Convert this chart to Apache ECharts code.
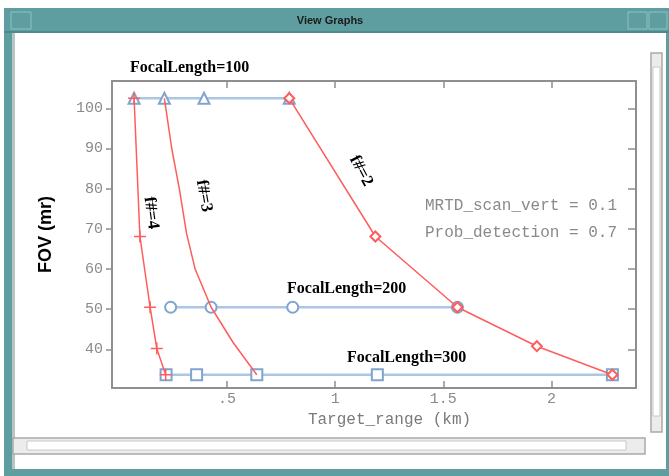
<!DOCTYPE html>
<html>
<head>
<meta charset="utf-8">
<script src="https://cdn.jsdelivr.net/npm/echarts@6/dist/echarts.min.js"></script>
<style>html,body{margin:0;padding:0;background:#fff;}#c{width:669px;height:476px;}</style>
</head>
<body>
<div id="c"></div>
<script>
// ---- data ----
const xTickValues = [0.5, 1, 1.5, 2];
const yTickValues = [40, 50, 60, 70, 80, 90, 100];

const fl100X = [0.071, 0.211, 0.394, 0.788];
const fl100Y = [102.5, 102.5, 102.5, 102.5];
const fl200X = [0.240, 0.427, 0.804, 1.565];
const fl200Y = [50.5, 50.5, 50.5, 50.5];
const fl300X = [0.219, 0.360, 0.638, 1.195, 2.281];
const fl300Y = [33.7, 33.7, 33.7, 33.7, 33.7];

const f2X = [0.788, 1.186, 1.565, 1.932, 2.281];
const f2Y = [102.5, 68.1, 50.5, 40.8, 33.7];
const f3X = [0.211, 0.245, 0.280, 0.313, 0.353, 0.427, 0.530, 0.638];
const f3Y = [102.5, 90, 80, 69, 60, 50.5, 41.6, 33.7];
const f4X = [0.071, 0.098, 0.145, 0.176, 0.217];
const f4Y = [102.5, 68.1, 50.5, 40.2, 33.7];

const pairs = (xs, ys) => xs.map((x, i) => [x, ys[i]]);

const BLUE_LINE = '#abc7e3';
const BLUE_MARK = '#7fa5cf';
const RED = '#ff5c5c';
const TEAL = '#5f9ea0';
const MONO = '"Liberation Mono", "DejaVu Sans Mono", monospace';
const SERIF = '"Liberation Serif", "DejaVu Serif", serif';

function blueSeries(name, data, symbol) {
  return {
    name, type: 'line', data, symbol, symbolSize: 11, z: 3,
    lineStyle: { color: BLUE_LINE, width: 2.5 },
    itemStyle: { color: BLUE_MARK, borderWidth: 1.5 },
    emphasis: { disabled: true }, animation: false
  };
}

const chart = echarts.init(document.getElementById('c'));
const axisGray = '#8f8f8f';
const labelGray = '#8a8a8a';
const xMin = -0.031, xMax = 2.39, yMin = 30.4, yMax = 106.8;

chart.setOption({
  animation: false,
  backgroundColor: '#ffffff',
  grid: { left: 112, top: 81, width: 524, height: 307, show: true, backgroundColor: '#ffffff', borderColor: axisGray, borderWidth: 0 },
  xAxis: [
    {
      type: 'value', min: xMin, max: xMax, position: 'bottom',
      name: 'Target_range (km)', nameLocation: 'middle', nameGap: 20,
      nameTextStyle: { fontFamily: MONO, fontSize: 16, color: '#7a7a7a', padding: [0, 0, 0, 31] },
      axisLine: { show: true, onZero: false, lineStyle: { color: axisGray, width: 2 } },
      axisTick: { show: true, inside: true, length: 7, customValues: xTickValues, lineStyle: { color: axisGray, width: 1.5 } },
      axisLabel: { customValues: xTickValues, margin: 4, fontFamily: MONO, fontSize: 15, color: labelGray,
        formatter: v => String(v).replace(/^0\./, '.') },
      splitLine: { show: false }
    },
    {
      type: 'value', min: xMin, max: xMax, position: 'top',
      axisLine: { show: true, onZero: false, lineStyle: { color: axisGray, width: 2 } },
      axisTick: { show: true, inside: true, length: 7, customValues: xTickValues, lineStyle: { color: axisGray, width: 1.5 } },
      axisLabel: { show: false }, splitLine: { show: false }
    }
  ],
  yAxis: [
    {
      type: 'value', min: yMin, max: yMax, position: 'left',
      name: 'FOV (mr)', nameLocation: 'middle', nameGap: 57, nameRotate: 90,
      nameTextStyle: { fontFamily: '"Liberation Sans", Arial, sans-serif', fontWeight: 'bold', fontSize: 18, color: '#000' },
      axisLine: { show: true, onZero: false, lineStyle: { color: axisGray, width: 2 } },
      axisTick: { show: true, inside: false, length: 6, customValues: yTickValues, lineStyle: { color: axisGray, width: 1.5 } },
      axisLabel: { customValues: yTickValues, margin: 9, fontFamily: MONO, fontSize: 15, color: labelGray },
      splitLine: { show: false }
    },
    {
      type: 'value', min: yMin, max: yMax, position: 'right',
      axisLine: { show: true, onZero: false, lineStyle: { color: axisGray, width: 2 } },
      axisTick: { show: true, inside: true, length: 8, customValues: yTickValues, lineStyle: { color: axisGray, width: 1.5 } },
      axisLabel: { show: false }, splitLine: { show: false }
    }
  ],
  series: [
    blueSeries('FocalLength=100', pairs(fl100X, fl100Y), 'emptyTriangle'),
    blueSeries('FocalLength=200', pairs(fl200X, fl200Y), 'emptyCircle'),
    blueSeries('FocalLength=300', pairs(fl300X, fl300Y), 'emptyRect'),
    {
      name: 'f#=2', type: 'line', data: pairs(f2X, f2Y), symbol: 'emptyDiamond', symbolSize: 10, z: 4,
      lineStyle: { color: RED, width: 1.5 }, itemStyle: { color: RED, borderWidth: 1.5 }, emphasis: { disabled: true }
    },
    {
      name: 'f#=3', type: 'line', data: pairs(f3X, f3Y), showSymbol: false, symbol: 'none', z: 4,
      lineStyle: { color: RED, width: 1.5 }, itemStyle: { color: RED }, emphasis: { disabled: true }
    },
    {
      name: 'f#=4', type: 'line', data: pairs(f4X, f4Y), symbol: 'path://M0,5L10,5M5,0L5,10', symbolSize: 12, z: 4,
      lineStyle: { color: RED, width: 1.5 }, itemStyle: { color: RED, borderColor: RED, borderWidth: 1.5 }, emphasis: { disabled: true }
    }
  ],
  graphic: [
    // window frame
    { type: 'rect', z: -10, shape: { x: 4, y: 8, width: 665, height: 468 }, style: { fill: TEAL } },
    { type: 'rect', z: -9, shape: { x: 13, y: 33, width: 653, height: 436 }, style: { fill: '#ffffff' } },
    { type: 'rect', z: -9, shape: { x: 12, y: 33, width: 3, height: 436 }, style: { fill: '#b9c4c4' } },
    { type: 'rect', z: -9, shape: { x: 4, y: 31, width: 665, height: 2 }, style: { fill: '#4d8a8c' } },
    { type: 'rect', z: -9, shape: { x: 11, y: 12, width: 20, height: 17 }, style: { fill: 'none', stroke: '#8fc2c2', lineWidth: 1 } },
    { type: 'rect', z: -9, shape: { x: 628, y: 12, width: 19, height: 17 }, style: { fill: 'none', stroke: '#8fc2c2', lineWidth: 1 } },
    { type: 'rect', z: -9, shape: { x: 649, y: 12, width: 18, height: 17 }, style: { fill: 'none', stroke: '#8fc2c2', lineWidth: 1 } },
    { type: 'text', z: -8, style: { x: 330, y: 21, text: 'View Graphs', align: 'center', verticalAlign: 'middle',
      font: 'bold 11px "Liberation Sans", sans-serif', fill: '#1a1a1a' } },
    // vertical scrollbar
    { type: 'rect', z: -8, shape: { x: 651, y: 53, width: 11, height: 379 }, style: { fill: '#ececec', stroke: '#a9a9a9', lineWidth: 1.5 } },
    { type: 'rect', z: -8, shape: { x: 653, y: 67, width: 7, height: 349 }, style: { fill: '#ffffff', stroke: '#c8c8c8', lineWidth: 1 } },
    // horizontal scrollbar
    { type: 'rect', z: -8, shape: { x: 13, y: 438, width: 632, height: 16 }, style: { fill: '#ececec', stroke: '#a9a9a9', lineWidth: 1.5 } },
    { type: 'rect', z: -8, shape: { x: 27, y: 441, width: 599, height: 9 }, style: { fill: '#ffffff', stroke: '#c8c8c8', lineWidth: 1 } },
    // annotations
    { type: 'text', z: 100, style: { x: 130, y: 68, text: 'FocalLength=100', verticalAlign: 'middle', font: 'bold 16px ' + SERIF, fill: '#000' } },
    { type: 'text', z: 100, style: { x: 287, y: 289, text: 'FocalLength=200', verticalAlign: 'middle', font: 'bold 16px ' + SERIF, fill: '#000' } },
    { type: 'text', z: 100, style: { x: 347, y: 358, text: 'FocalLength=300', verticalAlign: 'middle', font: 'bold 16px ' + SERIF, fill: '#000' } },
    { type: 'text', z: 100, x: 361, y: 171, rotation: -62 * Math.PI / 180,
      style: { x: 0, y: 0, text: 'f#=2', align: 'center', verticalAlign: 'middle', font: 'bold 17px ' + SERIF, fill: '#000' } },
    { type: 'text', z: 100, x: 204, y: 196, rotation: -80 * Math.PI / 180,
      style: { x: 0, y: 0, text: 'f#=3', align: 'center', verticalAlign: 'middle', font: 'bold 17px ' + SERIF, fill: '#000' } },
    { type: 'text', z: 100, x: 151, y: 213, rotation: -82 * Math.PI / 180,
      style: { x: 0, y: 0, text: 'f#=4', align: 'center', verticalAlign: 'middle', font: 'bold 17px ' + SERIF, fill: '#000' } },
    { type: 'text', z: 100, style: { x: 425, y: 206, text: 'MRTD_scan_vert = 0.1', verticalAlign: 'middle', font: '16px ' + MONO, fill: '#8a8a8a' } },
    { type: 'text', z: 100, style: { x: 425, y: 233, text: 'Prob_detection = 0.7', verticalAlign: 'middle', font: '16px ' + MONO, fill: '#8a8a8a' } }
  ]
});
</script>
</body>
</html>
